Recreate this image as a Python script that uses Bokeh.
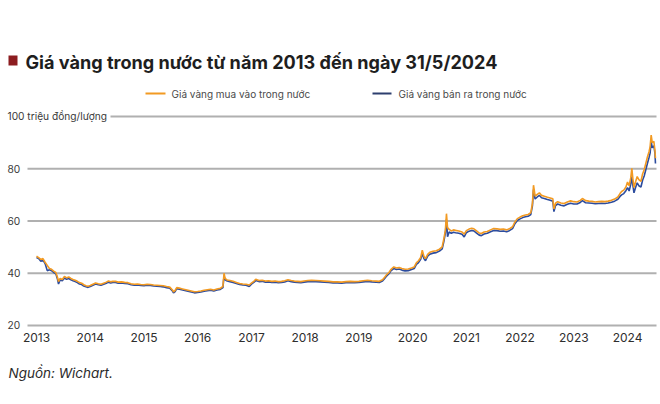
from bokeh.plotting import figure
from bokeh.models import Range1d
from bokeh.core.properties import value
from bokeh.embed import file_html
from bokeh.resources import INLINE

# ---------------- data ----------------
title_text = "Giá vàng trong nước từ năm 2013 đến ngày 31/5/2024"
legend_buy = "Giá vàng mua vào trong nước"
legend_sell = "Giá vàng bán ra trong nước"
y_unit = "triệu đồng/lượng"
source_text = "Nguồn: Wichart."

years = [2013, 2014, 2015, 2016, 2017, 2018, 2019, 2020, 2021, 2022, 2023, 2024]
y_ticks = [100, 80, 60, 40, 20]

t = [2013.00, 2013.04, 2013.08, 2013.12, 2013.16, 2013.20, 2013.24, 2013.28, 2013.32, 2013.36,
     2013.39, 2013.41, 2013.44, 2013.48, 2013.52, 2013.56, 2013.60, 2013.64, 2013.68, 2013.72,
     2013.76, 2013.80, 2013.84, 2013.88, 2013.92, 2013.96, 2014.00, 2014.05, 2014.10, 2014.15,
     2014.20, 2014.25, 2014.30, 2014.34, 2014.38, 2014.42, 2014.47, 2014.52, 2014.58, 2014.64,
     2014.70, 2014.76, 2014.82, 2014.88, 2014.94, 2015.00, 2015.06, 2015.12, 2015.18, 2015.24,
     2015.30, 2015.36, 2015.42, 2015.48, 2015.53, 2015.55, 2015.58, 2015.61, 2015.66, 2015.70,
     2015.76, 2015.82, 2015.88, 2015.94, 2016.00, 2016.06, 2016.12, 2016.18, 2016.24, 2016.30,
     2016.36, 2016.42, 2016.47, 2016.49, 2016.51, 2016.55, 2016.60, 2016.66, 2016.72, 2016.78,
     2016.84, 2016.90, 2016.96, 2017.00, 2017.05, 2017.08, 2017.14, 2017.20, 2017.26, 2017.32,
     2017.38, 2017.44, 2017.50, 2017.56, 2017.62, 2017.68, 2017.74, 2017.80, 2017.86, 2017.92,
     2017.98, 2018.05, 2018.12, 2018.20, 2018.28, 2018.36, 2018.44, 2018.52, 2018.60, 2018.68,
     2018.76, 2018.84, 2018.92, 2019.00, 2019.08, 2019.16, 2019.24, 2019.32, 2019.38, 2019.44,
     2019.48, 2019.52, 2019.56, 2019.60, 2019.65, 2019.70, 2019.75, 2019.80, 2019.86, 2019.92,
     2019.98, 2020.03, 2020.07, 2020.11, 2020.15, 2020.18, 2020.21, 2020.24, 2020.28, 2020.32,
     2020.38, 2020.44, 2020.50, 2020.55, 2020.58, 2020.61, 2020.63, 2020.65, 2020.68, 2020.72,
     2020.76, 2020.80, 2020.86, 2020.92, 2020.96, 2021.00, 2021.05, 2021.10, 2021.14, 2021.19,
     2021.24, 2021.28, 2021.33, 2021.39, 2021.45, 2021.51, 2021.57, 2021.63, 2021.69, 2021.75,
     2021.80, 2021.86, 2021.90, 2021.95, 2022.00, 2022.05, 2022.10, 2022.15, 2022.20, 2022.23,
     2022.25, 2022.28, 2022.32, 2022.36, 2022.40, 2022.45, 2022.51, 2022.56, 2022.61, 2022.63,
     2022.66, 2022.70, 2022.76, 2022.82, 2022.88, 2022.94, 2023.00, 2023.06, 2023.12, 2023.16,
     2023.22, 2023.28, 2023.34, 2023.40, 2023.46, 2023.52, 2023.58, 2023.64, 2023.70, 2023.76,
     2023.82, 2023.86, 2023.89, 2023.93, 2023.97, 2024.00, 2024.03, 2024.06, 2024.08, 2024.10,
     2024.12, 2024.15, 2024.18, 2024.21, 2024.25, 2024.28, 2024.31, 2024.34, 2024.37, 2024.40,
     2024.42, 2024.44, 2024.46, 2024.49, 2024.51, 2024.52]

buy = [46.5, 46.0, 45.3, 45.6, 44.2, 43.0, 41.8, 41.5, 40.8, 40.3,
       38.5, 36.8, 38.0, 37.6, 38.8, 38.2, 38.6, 38.0, 37.6, 37.3,
       36.9, 36.4, 36.2, 35.6, 35.2, 35.0, 35.3, 35.8, 36.3, 36.0,
       35.8, 36.2, 36.6, 37.0, 36.7, 36.9, 36.9, 36.6, 36.7, 36.5,
       36.4, 36.0, 35.8, 35.9, 35.7, 35.6, 35.8, 35.7, 35.5, 35.4,
       35.3, 35.2, 34.9, 34.7, 33.6, 32.9, 33.4, 34.5, 34.3, 34.1,
       33.8, 33.5, 33.2, 32.9, 33.0, 33.2, 33.5, 33.7, 33.9, 33.6,
       34.0, 34.2, 35.0, 40.0, 38.0, 37.4, 37.2, 36.9, 36.5, 36.1,
       35.9, 35.8, 35.5, 36.2, 37.0, 37.7, 37.2, 37.3, 37.0, 37.1,
       36.9, 37.0, 36.8, 36.9, 37.1, 37.5, 37.2, 37.0, 36.9, 36.8,
       37.0, 37.2, 37.3, 37.2, 37.1, 37.0, 36.9, 36.7, 36.7, 36.6,
       36.8, 36.9, 36.8, 36.9, 37.1, 37.3, 37.1, 37.0, 36.9, 37.5,
       38.5, 39.5, 40.3, 41.5, 42.4, 42.0, 42.2, 41.8, 41.5, 41.6,
       42.0, 42.4, 44.0, 44.8, 46.0, 48.8, 46.5, 45.6, 47.2, 48.0,
       48.4, 48.6, 49.2, 50.1, 53.0, 56.5, 62.8, 57.5, 56.8, 56.2,
       56.6, 56.4, 56.2, 55.8, 55.0, 56.3, 56.9, 57.2, 57.0, 56.2,
       55.4, 55.2, 55.8, 56.0, 56.6, 57.1, 57.0, 56.8, 56.9, 56.6,
       57.0, 57.8, 59.5, 60.9, 61.5, 62.0, 62.3, 62.5, 63.2, 66.7,
       73.7, 69.5, 70.2, 70.8, 69.8, 69.5, 69.1, 68.8, 68.5, 64.6,
       66.8, 67.4, 66.9, 66.7, 67.3, 67.7, 67.4, 67.3, 67.9, 68.6,
       67.8, 67.6, 67.5, 67.3, 67.4, 67.5, 67.4, 67.6, 67.9, 68.4,
       69.2, 70.5, 71.3, 71.8, 73.0, 74.9, 73.5, 76.5, 80.2, 76.0,
       72.8, 75.0, 77.0, 75.8, 75.2, 78.0, 79.6, 82.0, 84.5, 86.5,
       88.4, 92.9, 90.0, 90.5, 87.0, 84.0]

sell = [46.0, 45.6, 44.6, 45.0, 43.7, 41.0, 41.3, 41.0, 40.3, 39.8,
        37.8, 35.9, 37.4, 37.1, 38.2, 37.7, 38.0, 37.5, 37.1, 36.8,
        36.4, 35.9, 35.7, 35.1, 34.8, 34.6, 34.9, 35.4, 35.9, 35.6,
        35.4, 35.8, 36.2, 36.6, 36.3, 36.5, 36.5, 36.2, 36.3, 36.1,
        36.0, 35.6, 35.4, 35.5, 35.3, 35.2, 35.4, 35.3, 35.1, 35.0,
        34.9, 34.8, 34.5, 34.3, 33.2, 32.5, 33.0, 34.1, 33.9, 33.7,
        33.4, 33.1, 32.8, 32.5, 32.6, 32.8, 33.1, 33.3, 33.5, 33.2,
        33.6, 33.8, 34.5, 39.0, 37.5, 37.0, 36.8, 36.5, 36.1, 35.7,
        35.5, 35.4, 34.9, 35.8, 36.6, 37.2, 36.8, 36.9, 36.6, 36.7,
        36.5, 36.6, 36.4, 36.5, 36.7, 37.1, 36.8, 36.6, 36.5, 36.4,
        36.6, 36.8, 36.9, 36.8, 36.7, 36.6, 36.5, 36.3, 36.3, 36.2,
        36.4, 36.5, 36.4, 36.5, 36.7, 36.9, 36.7, 36.6, 36.5, 37.0,
        38.0, 39.0, 39.8, 41.0, 41.8, 41.4, 41.6, 41.2, 40.9, 41.0,
        41.4, 41.8, 43.4, 44.1, 45.3, 47.5, 45.6, 44.8, 46.5, 47.3,
        47.7, 47.9, 48.5, 49.3, 52.0, 55.5, 60.5, 54.0, 55.8, 55.3,
        55.7, 55.5, 55.3, 54.9, 53.9, 55.5, 56.1, 56.4, 56.2, 55.4,
        54.6, 54.4, 55.0, 55.3, 55.9, 56.4, 56.3, 56.1, 56.2, 55.9,
        56.3, 57.1, 58.8, 60.2, 60.8, 61.3, 61.6, 61.8, 62.5, 65.8,
        72.0, 68.4, 69.2, 69.8, 68.9, 68.6, 68.2, 67.9, 67.6, 63.6,
        65.9, 66.5, 66.0, 65.8, 66.4, 66.8, 66.5, 66.5, 67.1, 67.8,
        67.0, 66.9, 66.8, 66.6, 66.7, 66.8, 66.7, 66.9, 67.2, 67.6,
        68.3, 69.4, 70.0, 70.5, 71.6, 72.8, 71.5, 74.0, 77.0, 73.6,
        70.8, 72.8, 74.6, 73.5, 73.0, 75.6, 77.2, 79.6, 82.0, 84.3,
        86.0, 90.5, 88.0, 88.8, 86.0, 82.0]

# ---------------- layout helpers (page pixels -> data) ----------------
W, H = 660, 400
X_AT_LEFT = 2012.330   # data x at page x = 0
PX_PER_YEAR = 53.73
Y_AT_TOP = 144.40      # data y at page y = 0
PX_PER_UNIT = 2.6125


def dx(px):
    return X_AT_LEFT + px / PX_PER_YEAR


def dy(py):
    return Y_AT_TOP - py / PX_PER_UNIT


ORANGE = "#f29a22"
BLUE = "#2c4c9e"
GRID = "#b0b0b0"
FONT = value("Inter")

p = figure(width=W, height=H, output_backend="svg", toolbar_location=None,
           x_axis_type=None, y_axis_type=None,
           x_range=Range1d(dx(0), dx(W)), y_range=Range1d(dy(H), dy(0)),
           min_border=0, min_border_left=0, min_border_right=0,
           min_border_top=0, min_border_bottom=0)
p.outline_line_color = None
p.background_fill_color = "white"
p.border_fill_color = "white"

# grid lines
gx0 = [dx(110) if v == 100 else dx(27) for v in y_ticks]
gx1 = [dx(656)] * len(y_ticks)
p.segment(x0=gx0, y0=y_ticks, x1=gx1, y1=y_ticks, line_color=GRID, line_width=1.8)

# y labels
ylab = [f"{v} {y_unit}" if v == 100 else str(v) for v in y_ticks]
p.text(x=[dx(7)] * len(y_ticks), y=y_ticks, text=ylab, text_font=FONT,
       text_font_size="10.2px", text_color="#3a3a3a", text_align="left",
       text_baseline="middle")

# x labels
p.text(x=years, y=[dy(337)] * len(years), text=[str(y) for y in years], text_font=FONT,
       text_font_size="12px", text_color="#2e2e2e", text_align="center",
       text_baseline="middle")

# series
p.line(t, sell, line_color=BLUE, line_width=1.6)
p.line(t, buy, line_color=ORANGE, line_width=1.6)

# title
p.quad(left=[dx(8)], right=[dx(17)], top=[dy(55)], bottom=[dy(65)],
       fill_color="#8c1c20", line_color=None)
p.text(x=[dx(25)], y=[dy(61)], text=[title_text], text_font=FONT,
       text_font_size="18.1px", text_font_style="bold", text_color="#1e1e1e",
       text_align="left", text_baseline="middle")

# legend
p.segment(x0=[dx(145)], y0=[dy(93)], x1=[dx(165)], y1=[dy(93)],
          line_color=ORANGE, line_width=2)
p.text(x=[dx(171)], y=[dy(93)], text=[legend_buy], text_font=FONT,
       text_font_size="10px", text_color="#4a4a4a", text_align="left",
       text_baseline="middle")
p.segment(x0=[dx(372)], y0=[dy(93)], x1=[dx(391)], y1=[dy(93)],
          line_color="#2d3f6e", line_width=2)
p.text(x=[dx(398)], y=[dy(93)], text=[legend_sell], text_font=FONT,
       text_font_size="10px", text_color="#4a4a4a", text_align="left",
       text_baseline="middle")

# source
p.text(x=[dx(8)], y=[dy(372)], text=[source_text], text_font=FONT,
       text_font_size="13.5px", text_font_style="italic", text_color="#2a2a2a",
       text_align="left", text_baseline="middle")

open("out.html", "w").write(file_html(p, INLINE))
